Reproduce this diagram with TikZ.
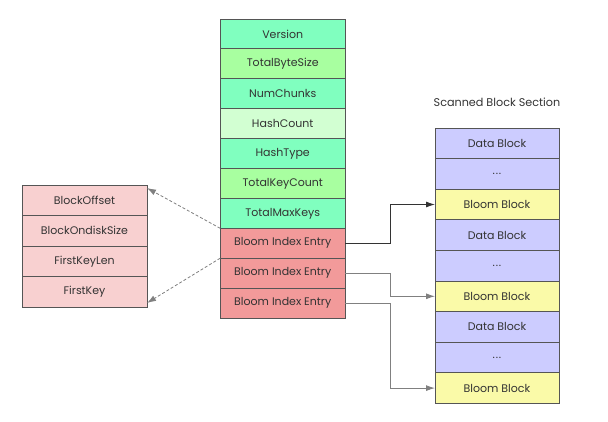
\documentclass[tikz,border=0pt]{standalone}
\usepackage{fontspec}
\setmainfont{Poppins}
\usetikzlibrary{arrows.meta}

\definecolor{aqua}{HTML}{80FFBF}
\definecolor{lgreen}{HTML}{A8FFA0}
\definecolor{pgreen}{HTML}{D2FFD2}
\definecolor{entryred}{HTML}{F29A9A}
\definecolor{fieldpink}{HTML}{F8D0D0}
\definecolor{lavender}{HTML}{CCCCFF}
\definecolor{lyellow}{HTML}{FAFAA8}
\definecolor{edge}{HTML}{555555}
\definecolor{ink}{HTML}{333333}

\newcommand{\gapdots}{.\kern0.8pt.\kern0.8pt.}

\tikzset{
  cell/.style={draw=edge,line width=0.9pt,outer sep=0pt,inner sep=0pt,
    minimum width=125pt,minimum height=30pt,text=ink,
    font=\fontsize{11}{13}\selectfont},
  conn/.style={draw=#1,line width=0.9pt,-{Latex[length=9pt,width=6pt]}},
  ref/.style={draw=gray,line width=0.8pt,dash pattern=on 3pt off 2pt,
    -{Latex[length=9pt,width=6pt]}}
}

\begin{document}
\begin{tikzpicture}[x=1pt,y=-1pt]
    \useasboundingbox (0,0) rectangle (608,422);
    % index block
    \foreach \name/\txt/\col [count=\i] in {ver/Version/aqua,
        tbs/TotalByteSize/lgreen, nch/NumChunks/aqua,
        hcnt/HashCount/pgreen, htype/HashType/aqua,
        tkc/TotalKeyCount/lgreen, tmk/TotalMaxKeys/aqua,
        bie1/Bloom Index Entry/entryred, bie2/Bloom Index Entry/entryred,
        bie3/Bloom Index Entry/entryred}
        \node[cell,fill=\col,minimum height=29.9pt] (\name) at (282.7,4.05+29.9*\i) {\txt};

    % entry fields
    \foreach \name/\txt [count=\i] in {boff/BlockOffset,
        bsize/BlockOndiskSize, fklen/FirstKeyLen, fkey/FirstKey}
        \node[cell,fill=fieldpink,minimum height=30.5pt] (\name) at (84.5,169.75+30.5*\i) {\txt};

    % scanned blocks
    \node[text=ink,font=\fontsize{11.2}{13}\selectfont] (title) at (497,102) {Scanned Block Section};
    \foreach \name/\txt/\col [count=\i] in {db1/Data Block/lavender,
        dd1/\gapdots/lavender, bb1/Bloom Block/lyellow,
        db2/Data Block/lavender, dd2/\gapdots/lavender, bb2/Bloom Block/lyellow,
        db3/Data Block/lavender, dd3/\gapdots/lavender, bb3/Bloom Block/lyellow}
        \node[cell,fill=\col,minimum width=124pt,minimum height=30.6pt] (\name) at (497,112.7+30.6*\i) {\txt};

    \coordinate (elbow) at (390,0);
    \draw[conn=ink] (bie1.east) -- (bie1.east -| elbow) |- (bb1.west);
    \draw[conn=gray] (bie2.east) -- (bie2.east -| elbow) |- (bb2.west);
    \draw[conn=gray] (bie3.east) -- (bie3.east -| elbow) |- (bb3.west);

    \draw[ref] (bie1.north west) -- ([yshift=-3pt]boff.north east);
    \draw[ref] (bie1.south west) -- ([yshift=4pt]fkey.south east);
\end{tikzpicture}
\end{document}
